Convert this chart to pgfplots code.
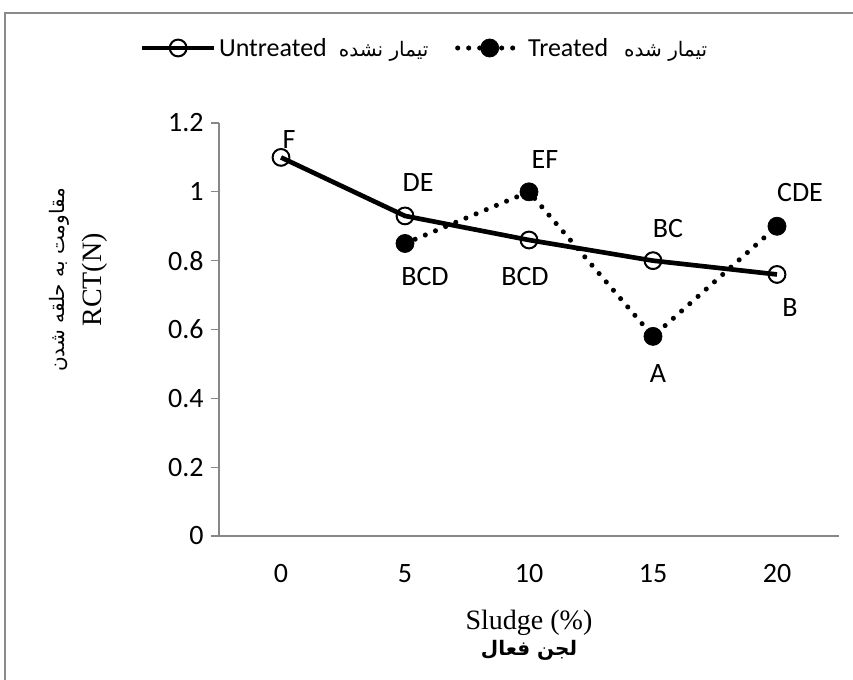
\documentclass[border=0pt]{standalone}
\usepackage{fontspec}
\usepackage{pgfplots}
\pgfplotsset{compat=1.18}
\setmainfont{Liberation Serif}
\newfontfamily\calibri{Carlito}
\newfontfamily\arabicfont[Script=Arabic]{DejaVu Sans}
\TeXXeTstate=1
\definecolor{axgray}{HTML}{878787}
\definecolor{framegray}{HTML}{8A8A8A}
\pgfplotsset{
  legA/.style={legend image code/.code={\draw[mark repeat=2, mark phase=2, ##1] plot coordinates {(0pt,0pt) (27pt,0pt) (54pt,0pt)};}},
  legB/.style={legend image code/.code={\draw[mark repeat=2, mark phase=2, ##1] plot coordinates {(0pt,0pt) (24pt,0pt) (49pt,0pt)};}},
}
\begin{document}
\begin{tikzpicture}
\useasboundingbox (0,0) rectangle (639.75pt,-510pt);
\draw[framegray, line width=1.3pt] (3.75pt,-530pt) -- (3.75pt,-9.75pt) -- (660pt,-9.75pt);
\begin{axis}[
  at={(164.25pt,-402pt)}, anchor=south west,
  scale only axis, width=465pt, height=309.75pt,
  xmin=-2.5, xmax=22.5, ymin=0, ymax=1.2,
  xtick={0,5,10,15,20}, ytick={0,0.2,0.4,0.6,0.8,1,1.2},
  axis lines=left,
  axis line style={-, axgray, line width=1pt},
  xtick style={draw=none},
  ytick style={axgray, line width=1pt},
  major tick length=6pt, tick align=outside,
  ticklabel style={font=\calibri\fontsize{21}{24}\selectfont, text=black},
  /pgf/number format/assume math mode=true,
  yticklabel style={/pgf/number format/fixed, xshift=-2pt},
  xticklabel style={anchor=base, yshift=-29pt},
  xlabel={Sludge (\%)\\[-4pt]{\arabicfont\bfseries\fontsize{15}{17}\selectfont\beginR لجن  فعال\endR}},
  xlabel style={align=center, font=\fontsize{21}{23}\selectfont, at={(axis description cs:0.5,-0.24)}, anchor=center},
  ylabel={{\arabicfont\fontsize{15}{17}\selectfont\beginR مقاومت به حلقه شدن\endR}\\[5pt]RCT(N)},
  ylabel style={align=center, font=\fontsize{21}{23}\selectfont, at={(axis description cs:-0.227,0.62)}, anchor=center},
  legend columns=2,
  legend style={draw=none, fill=none, at={(0.332,1.1816)}, anchor=center,
    font=\calibri\fontsize{19.5}{23}\selectfont,
    /tikz/every even column/.append style={column sep=18pt}},
  clip=false,
]
\addplot[black, line width=3.5pt, mark=o, mark size=6.3pt, mark options={line width=1.5pt}, legA]
  coordinates {(0,1.1) (5,0.93) (10,0.86) (15,0.80) (20,0.76)};
\addlegendentry{Untreated\hspace{9pt}{\arabicfont\fontsize{15}{18}\selectfont\beginR تیمار نشده\endR}}
\addplot[black, line width=3.8pt, line cap=round, dash pattern=on 0pt off 8.25pt, mark=*, mark size=6.8pt, mark options={solid, line width=0.5pt, fill=black}, legB]
  coordinates {(5,0.85) (10,1.0) (15,0.58) (20,0.90)};
\addlegendentry{Treated\hspace{12pt}{\arabicfont\fontsize{15}{18}\selectfont\beginR تیمار شده\endR}}
\addplot[draw=none, mark=none, forget plot, nodes near coords, point meta=explicit symbolic,
  visualization depends on={value \thisrow{dx}\as\dx},
  visualization depends on={value \thisrow{dy}\as\dy},
  nodes near coords style={anchor=center, xshift=\dx pt, yshift=\dy pt, font=\calibri\fontsize{21}{24}\selectfont, text=black}]
  table[x=x, y=y, meta=lab] {
x y dx dy lab
0 1.1 6 13.5 F
5 0.93 9.75 24.75 DE
10 1.0 12 24 EF
15 0.80 11.25 24 BC
20 0.90 17.25 25.5 CDE
5 0.85 15 -24.75 BCD
10 0.86 -3 -27 BCD
15 0.58 3.75 -27.75 A
20 0.76 9.75 -24.75 B
};
\end{axis}
\end{tikzpicture}
\end{document}
